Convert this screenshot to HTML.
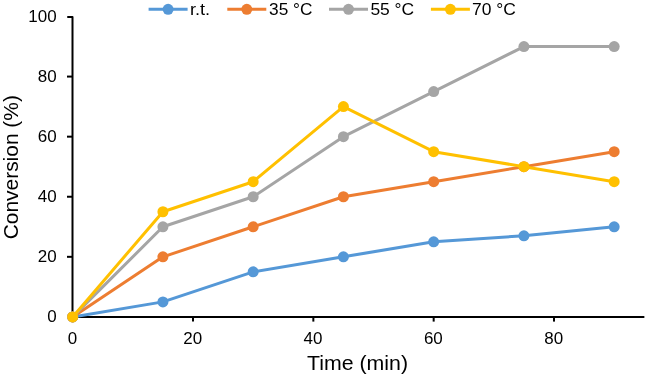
<!DOCTYPE html>
<html><head><meta charset="utf-8"><style>
html,body{margin:0;padding:0;background:#fff;}
body{width:646px;height:375px;overflow:hidden;}
svg{display:block;will-change:transform;}
text{font-family:"Liberation Sans",sans-serif;fill:#000;}
</style></head><body>
<svg width="646" height="375" viewBox="0 0 646 375">

<g stroke="#000" stroke-width="2" fill="none">
<path d="M68 16.9 H72.5 V316.9 H643.6" stroke-linejoin="round" stroke-linecap="round"/>
<line x1="67" y1="256.82" x2="72.5" y2="256.82"/>
<line x1="67" y1="196.74" x2="72.5" y2="196.74"/>
<line x1="67" y1="136.66" x2="72.5" y2="136.66"/>
<line x1="67" y1="76.58" x2="72.5" y2="76.58"/>
<line x1="72.67" y1="316.9" x2="72.67" y2="321.6"/>
<line x1="193.00" y1="316.9" x2="193.00" y2="321.6"/>
<line x1="313.34" y1="316.9" x2="313.34" y2="321.6"/>
<line x1="433.67" y1="316.9" x2="433.67" y2="321.6"/>
<line x1="554.01" y1="316.9" x2="554.01" y2="321.6"/>
</g>
<g font-size="16" text-anchor="end">
<text x="56.6" y="322.30" textLength="9.43" lengthAdjust="spacingAndGlyphs">0</text>
<text x="56.6" y="262.22" textLength="18.87" lengthAdjust="spacingAndGlyphs">20</text>
<text x="56.6" y="202.14" textLength="18.87" lengthAdjust="spacingAndGlyphs">40</text>
<text x="56.6" y="142.06" textLength="18.87" lengthAdjust="spacingAndGlyphs">60</text>
<text x="56.6" y="81.98" textLength="18.87" lengthAdjust="spacingAndGlyphs">80</text>
<text x="56.6" y="21.90" textLength="28.30" lengthAdjust="spacingAndGlyphs">100</text>
</g>
<g font-size="16" text-anchor="middle">
<text x="72.37" y="344.3" textLength="9.43" lengthAdjust="spacingAndGlyphs">0</text>
<text x="192.70" y="344.3" textLength="18.87" lengthAdjust="spacingAndGlyphs">20</text>
<text x="313.04" y="344.3" textLength="18.87" lengthAdjust="spacingAndGlyphs">40</text>
<text x="433.37" y="344.3" textLength="18.87" lengthAdjust="spacingAndGlyphs">60</text>
<text x="553.71" y="344.3" textLength="18.87" lengthAdjust="spacingAndGlyphs">80</text>
</g>
<text font-size="20" x="307" y="370" textLength="101" lengthAdjust="spacingAndGlyphs">Time (min)</text>
<text font-size="20" textLength="144.2" lengthAdjust="spacingAndGlyphs" transform="translate(17.6,239.3) rotate(-90)">Conversion (%)</text>
<polyline points="72.67,316.90 162.92,301.88 253.17,271.84 343.42,256.82 433.67,241.80 523.92,235.79 614.17,226.78" fill="none" stroke="#5598D7" stroke-width="3" stroke-linejoin="round"/>
<circle cx="72.67" cy="316.90" r="5.5" fill="#5598D7"/>
<circle cx="162.92" cy="301.88" r="5.5" fill="#5598D7"/>
<circle cx="253.17" cy="271.84" r="5.5" fill="#5598D7"/>
<circle cx="343.42" cy="256.82" r="5.5" fill="#5598D7"/>
<circle cx="433.67" cy="241.80" r="5.5" fill="#5598D7"/>
<circle cx="523.92" cy="235.79" r="5.5" fill="#5598D7"/>
<circle cx="614.17" cy="226.78" r="5.5" fill="#5598D7"/>
<polyline points="72.67,316.90 162.92,256.82 253.17,226.78 343.42,196.74 433.67,181.72 523.92,166.70 614.17,151.68" fill="none" stroke="#ED7D31" stroke-width="3" stroke-linejoin="round"/>
<circle cx="72.67" cy="316.90" r="5.5" fill="#ED7D31"/>
<circle cx="162.92" cy="256.82" r="5.5" fill="#ED7D31"/>
<circle cx="253.17" cy="226.78" r="5.5" fill="#ED7D31"/>
<circle cx="343.42" cy="196.74" r="5.5" fill="#ED7D31"/>
<circle cx="433.67" cy="181.72" r="5.5" fill="#ED7D31"/>
<circle cx="523.92" cy="166.70" r="5.5" fill="#ED7D31"/>
<circle cx="614.17" cy="151.68" r="5.5" fill="#ED7D31"/>
<polyline points="72.67,316.90 162.92,226.78 253.17,196.74 343.42,136.66 433.67,91.60 523.92,46.54 614.17,46.54" fill="none" stroke="#A5A5A5" stroke-width="3" stroke-linejoin="round"/>
<circle cx="72.67" cy="316.90" r="5.5" fill="#A5A5A5"/>
<circle cx="162.92" cy="226.78" r="5.5" fill="#A5A5A5"/>
<circle cx="253.17" cy="196.74" r="5.5" fill="#A5A5A5"/>
<circle cx="343.42" cy="136.66" r="5.5" fill="#A5A5A5"/>
<circle cx="433.67" cy="91.60" r="5.5" fill="#A5A5A5"/>
<circle cx="523.92" cy="46.54" r="5.5" fill="#A5A5A5"/>
<circle cx="614.17" cy="46.54" r="5.5" fill="#A5A5A5"/>
<polyline points="72.67,316.90 162.92,211.76 253.17,181.72 343.42,106.62 433.67,151.68 523.92,166.70 614.17,181.72" fill="none" stroke="#FFC000" stroke-width="3" stroke-linejoin="round"/>
<circle cx="72.67" cy="316.90" r="5.5" fill="#FFC000"/>
<circle cx="162.92" cy="211.76" r="5.5" fill="#FFC000"/>
<circle cx="253.17" cy="181.72" r="5.5" fill="#FFC000"/>
<circle cx="343.42" cy="106.62" r="5.5" fill="#FFC000"/>
<circle cx="433.67" cy="151.68" r="5.5" fill="#FFC000"/>
<circle cx="523.92" cy="166.70" r="5.5" fill="#FFC000"/>
<circle cx="614.17" cy="181.72" r="5.5" fill="#FFC000"/>
<line x1="148.6" y1="9.3" x2="187.6" y2="9.3" stroke="#5598D7" stroke-width="3"/>
<circle cx="168.1" cy="9.3" r="5.5" fill="#5598D7"/>
<text font-size="16" x="189.9" y="14.6" textLength="20.2" lengthAdjust="spacingAndGlyphs">r.t.</text>
<line x1="227.3" y1="9.3" x2="266.3" y2="9.3" stroke="#ED7D31" stroke-width="3"/>
<circle cx="246.8" cy="9.3" r="5.5" fill="#ED7D31"/>
<text font-size="16" x="269.1" y="14.6" textLength="43.3" lengthAdjust="spacingAndGlyphs">35 °C</text>
<line x1="329" y1="9.3" x2="368" y2="9.3" stroke="#A5A5A5" stroke-width="3"/>
<circle cx="348.5" cy="9.3" r="5.5" fill="#A5A5A5"/>
<text font-size="16" x="370.4" y="14.6" textLength="43.8" lengthAdjust="spacingAndGlyphs">55 °C</text>
<line x1="430.9" y1="9.3" x2="469.9" y2="9.3" stroke="#FFC000" stroke-width="3"/>
<circle cx="450.4" cy="9.3" r="5.5" fill="#FFC000"/>
<text font-size="16" x="472.0" y="14.6" textLength="43.8" lengthAdjust="spacingAndGlyphs">70 °C</text>
</svg>
</body></html>
